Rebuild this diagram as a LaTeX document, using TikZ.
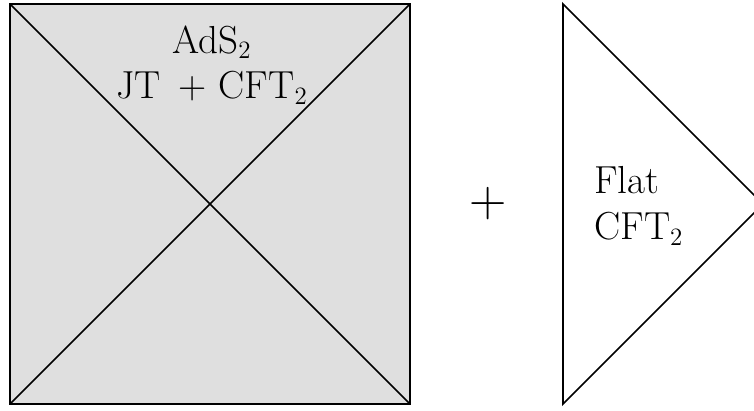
\documentclass[tikz,border=0pt]{standalone}
\begin{document}
\begin{tikzpicture}[scale=1.69, font=\fontsize{18.8pt}{22pt}\selectfont]
    \useasboundingbox (-0.1,-0.07) rectangle (7.44,4.04);

    % AdS2 区域（灰色方块与对角线）
    \fill[gray!25] (0,0) rectangle (4,4);
    \draw[thick] (0,0) rectangle (4,4);
    \draw[thick] (0,0) -- (4,4);
    \draw[thick] (0,4) -- (4,0);
    \node[align=center] (ads) at (2.02,3.39) {AdS$_2$\\JT\, + CFT$_2$};

    % 加号
    \node[font=\fontsize{24pt}{28pt}\selectfont] (plus) at (4.78,2) {$+$};

    % 平坦区域（三角形）
    \draw[thick] (5.53,0) -- (5.53,4) -- (7.53,2) -- cycle;
    \node[align=left, anchor=west] (flat) at (5.77,1.98) {Flat\\CFT$_2$};
\end{tikzpicture}
\end{document}
